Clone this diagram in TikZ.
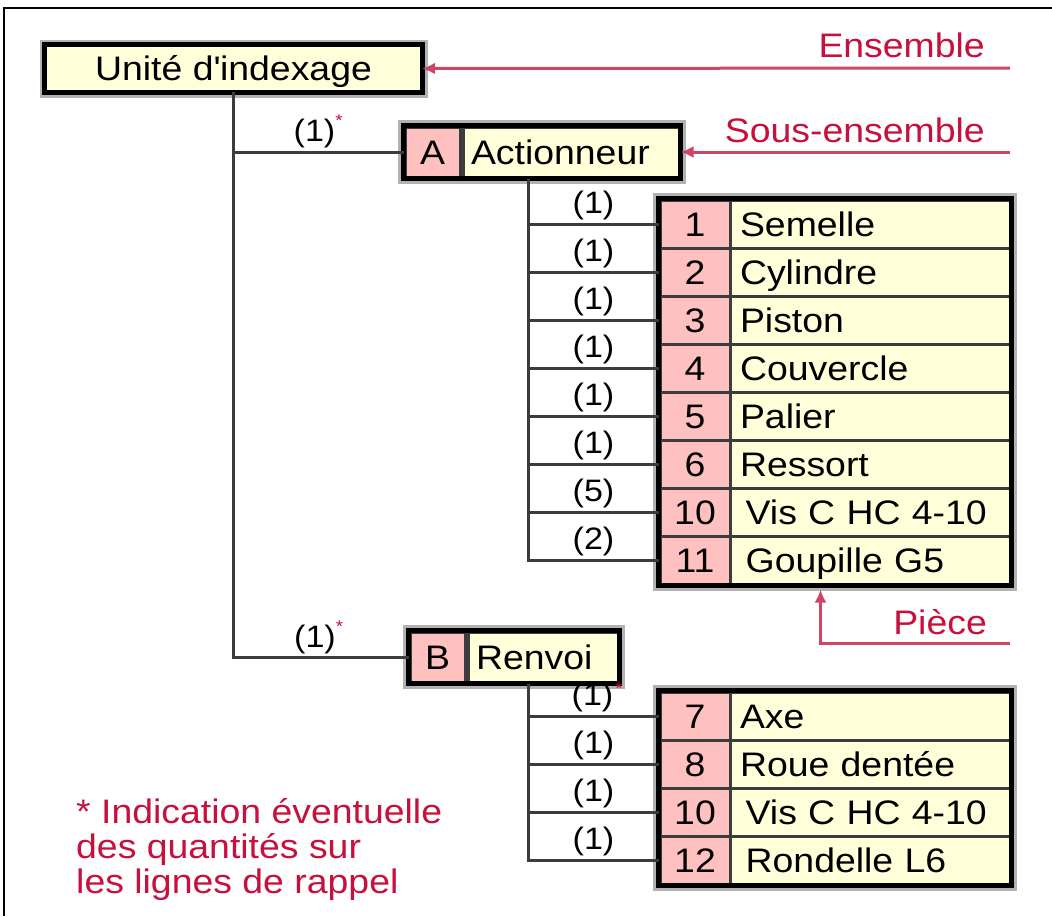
\documentclass[tikz,border=0pt]{standalone}
\usepackage{fontspec}
\setmainfont{Liberation Sans}[FakeStretch=1.1]
\usetikzlibrary{arrows.meta,calc}
\definecolor{cellpink}{RGB}{255,192,192}
\definecolor{cellcream}{RGB}{255,255,218}
\definecolor{callred}{RGB}{200,16,60}
\definecolor{callline}{RGB}{205,70,100}
\definecolor{linegray}{RGB}{60,60,60}

\tikzset{
  boxframe/.style={draw=black,line width=5pt},
  boxhalo/.style={draw=black!30,line width=3pt},
  numcell/.style={fill=cellpink,draw=linegray,line width=3pt,minimum width=70pt,
    minimum height=48pt,inner sep=0pt,text height=24pt,text depth=0pt},
  namecell/.style={fill=cellcream,draw=linegray,line width=3pt,text width=260pt,
    inner xsep=10pt,inner ysep=0pt,minimum height=48pt,align=left,
    text height=24pt,text depth=0pt},
  link/.style={draw=linegray,line width=3pt},
  qty/.style={font=\fontsize{31}{32}\selectfont,anchor=south,inner sep=0pt,yshift=3pt},
  callout/.style={draw=callline,line width=3pt,-{Latex[length=13pt,width=12pt]}},
  calltext/.style={text=callred,inner sep=0pt},
}
\newcommand{\redstar}[1]{\rlap{\raisebox{#1}{\color{callred}\fontsize{17}{17}\selectfont*}}}

\begin{document}
\begin{tikzpicture}[x=1pt,y=-1pt,font=\fontsize{34}{36}\selectfont]
\useasboundingbox (0,0) rectangle (1052,916);
\fill[white] (0,0) rectangle (1052,916);

% sheet border
\draw[black,line width=2pt] (4,916) -- (4,8) -- (1052,8);

% top-level unit
\draw[boxhalo] (41,41) rectangle (426,96);
\node[fill=cellcream,minimum width=377pt,minimum height=47pt,inner sep=0pt,
  text height=24pt,text depth=0pt] (unite) at (233.5,68.5) {Unité d\textquotesingle indexage};
\draw[boxframe] (unite.north west) rectangle (unite.south east);

% sub-assembly A
\node[numcell,minimum width=55pt,minimum height=50pt] (Anum) at (432.5,152) {A};
\node[namecell,text width=200pt,inner xsep=8pt,minimum height=50pt,anchor=west] (Aname) at (Anum.east) {Actionneur};
\draw[boxhalo] ($(Anum.north west)+(-4,-4)$) rectangle ($(Aname.south east)+(4,4)$);
\draw[boxframe] (Anum.north west) rectangle (Aname.south east);

% sub-assembly B
\node[numcell,minimum width=55pt,minimum height=50pt] (Bnum) at (437.5,657) {B};
\node[namecell,text width=134pt,inner xsep=8pt,minimum height=50pt,anchor=west] (Bname) at (Bnum.east) {Renvoi};
\draw[boxhalo] ($(Bnum.north west)+(-4,-4)$) rectangle ($(Bname.south east)+(4,4)$);
\draw[boxframe] (Bnum.north west) rectangle (Bname.south east);

% parts of A
\foreach \num/\name [count=\i from 0] in {1/Semelle,2/Cylindre,3/Piston,4/Couvercle,
    5/Palier,6/Ressort,10/{\,Vis C HC 4-10},11/{\,Goupille G5}} {
  \node[numcell] (a\i n) at (695,{224+48*\i}) {\num};
  \node[namecell] (a\i t) at (870,{224+48*\i}) {\name};
}
\draw[boxhalo] ($(a0n.north west)+(-4,-4)$) rectangle ($(a7t.south east)+(4,4)$);
\draw[boxframe] (a0n.north west) rectangle (a7t.south east);

% parts of B
\foreach \num/\name [count=\i from 0] in {7/Axe,8/Roue dentée,10/{\,Vis C HC 4-10},
    12/{\,Rondelle L6}} {
  \node[numcell] (b\i n) at (695,{716+48*\i}) {\num};
  \node[namecell] (b\i t) at (870,{716+48*\i}) {\name};
}
\draw[boxhalo] ($(b0n.north west)+(-4,-4)$) rectangle ($(b3t.south east)+(4,4)$);
\draw[boxframe] (b0n.north west) rectangle (b3t.south east);

% tree links
\draw[link] (unite.south) |- (Bnum.west);
\draw[link] (unite.south |- Anum.west) -- (Anum.west)
  node[qty,midway,xshift=-4pt] {(1)\redstar{15pt}};
\path (unite.south |- Bnum.west) -- (Bnum.west)
  node[qty,midway,xshift=-6pt] {(1)\redstar{15pt}};

\coordinate (Aroot) at ($(Aname.south west)+(67,0)$);
\draw[link] (Aroot) |- (a7n.west);
\foreach \i/\q in {0/1,1/1,2/1,3/1,4/1,5/1,6/5,7/2} {
  \draw[link] (Aroot |- a\i n.west) -- (a\i n.west) node[qty,midway] {(\q)};
}

\coordinate (Broot) at ($(Bname.south west)+(62,0)$);
\draw[link] (Broot) |- (b3n.west);
\draw[link] (Broot |- b0n.west) -- (b0n.west)
  node[qty,midway] {(1)\hspace{2pt}\redstar{11pt}};
\foreach \i in {1,2,3} {
  \draw[link] (Broot |- b\i n.west) -- (b\i n.west) node[qty,midway] {(1)};
}

% call-outs
\coordinate (ensStart) at (1010,68);
\coordinate (sousStart) at (1010,152);
\coordinate (pieceStart) at (1010,643);
\coordinate (pieceTip) at ($(a7t.south west)+(92,4)$);
\draw[callout] (ensStart) -- (unite.east);
\draw[callout] (sousStart) -- (Aname.east);
\draw[callout] (pieceStart) -| (pieceTip);
\node[calltext,anchor=east] (ensLabel) at (985,45) {Ensemble};
\node[calltext,anchor=east] (sousLabel) at (985,130) {Sous-ensemble};
\node[calltext,anchor=east] (pieceLabel) at (987,622) {Pièce};

% footnote
\node[calltext,anchor=north west,align=left,font=\fontsize{34}{35}\selectfont]
  (note) at (76,798) {* Indication éventuelle\\des quantités sur\\les lignes de rappel};
\end{tikzpicture}
\end{document}
